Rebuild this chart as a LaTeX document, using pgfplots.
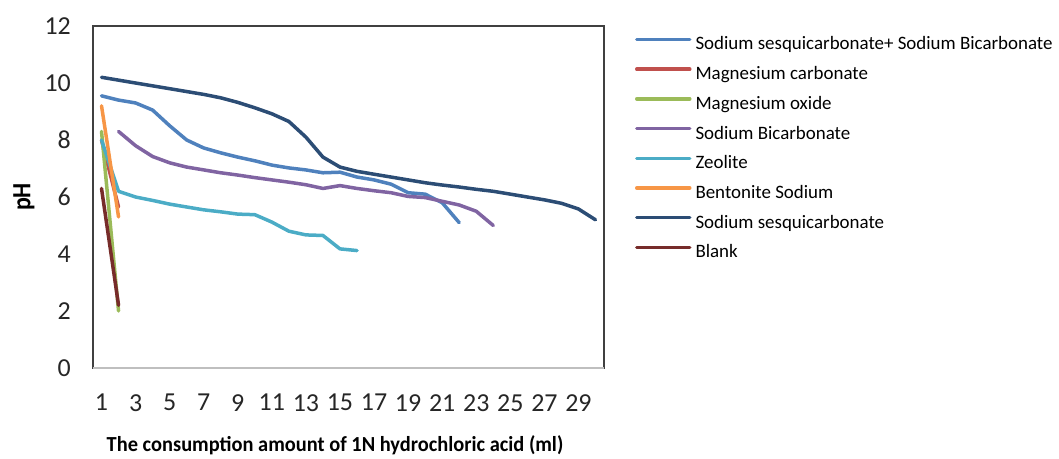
\documentclass[border=0pt]{standalone}
\usepackage{fontspec}
\setmainfont{Carlito}
\usepackage{pgfplots}
\pgfplotsset{compat=1.18}
\definecolor{sssb}{HTML}{4F81BD}
\definecolor{mgc}{HTML}{C0504D}
\definecolor{mgo}{HTML}{9BBB59}
\definecolor{nahco}{HTML}{8064A2}
\definecolor{zeo}{HTML}{4BACC6}
\definecolor{bent}{HTML}{F79646}
\definecolor{ss}{HTML}{2C4D75}
\definecolor{blank}{HTML}{772C2A}
\definecolor{frame}{HTML}{404040}
\begin{document}
\begin{tikzpicture}
\useasboundingbox (0bp,0bp) rectangle (1059bp,-459bp);
\begin{axis}[
  at={(93bp,-368bp)}, anchor=south west,
  width=511bp, height=342bp, scale only axis,
  xmin=0.5, xmax=30.5, ymin=0, ymax=12,
  xtick={1,3,...,29}, ytick={0,2,...,12},
  major tick length=0pt,
  axis line style={frame, line width=1.2bp},
  /pgf/number format/assume math mode=true,
  tick label style={font=\fontsize{26}{30}\selectfont, text=black!85},
  yticklabel style={inner xsep=0pt, xshift=-22bp},
  xticklabel style={inner ysep=0pt, yshift=-26bp},
  xlabel={\scalebox{1}[1.05]{The consumption amount of 1N hydrochloric acid (ml)}},
  ylabel={\scalebox{1}[1.1]{pH}},
  label style={font=\fontsize{20.5}{24}\selectfont\bfseries},
  xlabel style={at={(axis description cs:0.4736,-0.226)}, anchor=center},
  ylabel style={at={(axis description cs:-0.135,0.5)}, anchor=center, font=\fontsize{24}{28}\selectfont\bfseries},
  legend cell align=left,
  legend style={draw=none, fill=none, at={(axis description cs:1.0607,0.9664)},
    anchor=north west, inner sep=0pt, outer sep=0pt, row sep=13.7bp, column sep=4bp,
    font=\fontsize{19}{22}\selectfont,
    nodes={inner sep=0pt, text height=12.5bp, text depth=3.5bp}},
  every axis plot/.append style={line width=3.5bp, line join=round, line cap=round},
  legend image code/.code={\draw[#1] (0bp,6bp) -- (53bp,6bp);},
]
\addplot[sssb] coordinates {(1,9.55)(2,9.4)(3,9.3)(4,9.05)(5,8.5)(6,8.0)(7,7.72)(8,7.55)(9,7.4)(10,7.27)(11,7.12)(12,7.02)(13,6.95)(14,6.85)(15,6.87)(16,6.7)(17,6.6)(18,6.45)(19,6.15)(20,6.1)(21,5.8)(22,5.1)};
\addlegendentry{Sodium sesquicarbonate+ Sodium Bicarbonate}
\addplot[mgc] coordinates {(1,8.0)(2,5.65)};
\addlegendentry{Magnesium carbonate}
\addplot[mgo] coordinates {(1,8.3)(2,2.0)};
\addlegendentry{Magnesium oxide}
\addplot[nahco] coordinates {(2,8.3)(3,7.8)(4,7.42)(5,7.2)(6,7.05)(7,6.95)(8,6.85)(9,6.77)(10,6.68)(11,6.6)(12,6.52)(13,6.43)(14,6.3)(15,6.4)(16,6.3)(17,6.22)(18,6.15)(19,6.02)(20,5.98)(21,5.85)(22,5.72)(23,5.5)(24,5.0)};
\addlegendentry{Sodium Bicarbonate}
\addplot[zeo] coordinates {(1,8.0)(2,6.2)(3,6.0)(4,5.88)(5,5.75)(6,5.65)(7,5.55)(8,5.48)(9,5.4)(10,5.38)(11,5.12)(12,4.8)(13,4.67)(14,4.65)(15,4.18)(16,4.12)};
\addlegendentry{Zeolite}
\addplot[bent] coordinates {(1,9.2)(2,5.3)};
\addlegendentry{Bentonite Sodium}
\addplot[ss] coordinates {(1,10.2)(2,10.1)(3,10.0)(4,9.9)(5,9.8)(6,9.7)(7,9.6)(8,9.48)(9,9.32)(10,9.13)(11,8.92)(12,8.65)(13,8.1)(14,7.4)(15,7.05)(16,6.9)(17,6.8)(18,6.7)(19,6.6)(20,6.5)(21,6.42)(22,6.35)(23,6.27)(24,6.2)(25,6.1)(26,6.0)(27,5.9)(28,5.78)(29,5.58)(30,5.2)};
\addlegendentry{Sodium sesquicarbonate}
\addplot[blank] coordinates {(1,6.3)(2,2.2)};
\addlegendentry{Blank}
\draw[black!25, line width=1.4bp] (rel axis cs:0,0) -- (rel axis cs:1,0);
\end{axis}
\end{tikzpicture}
\end{document}
